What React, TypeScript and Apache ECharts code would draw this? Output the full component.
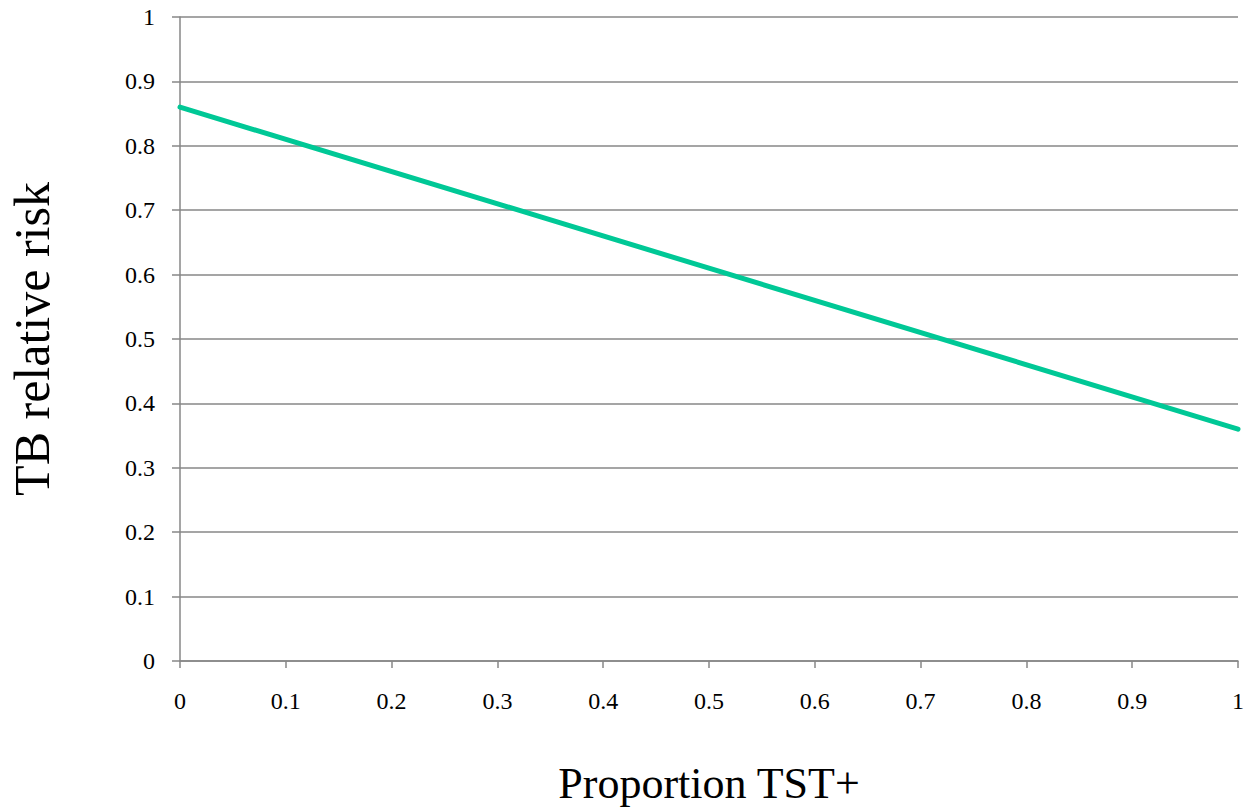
import React, { useEffect, useRef } from "react";
import * as echarts from "echarts";

const xValues = [0, 1];
const riskValues = [0.86, 0.36];
const xTitle = "Proportion TST+";
const yTitle = "TB relative risk";

export default function App() {
  const ref = useRef<HTMLDivElement>(null);
  useEffect(() => {
    if (!ref.current) return;
    const chart = echarts.init(ref.current, undefined, { renderer: "svg" });
    const font = "'Liberation Serif', 'Times New Roman', serif";
    const gray = "#878787";
    const fmt = (v: number) => String(Math.round(v * 10) / 10);
    chart.setOption({
      animation: false,
      backgroundColor: "#ffffff",
      grid: {
        left: 180,
        right: 9,
        top: 17,
        bottom: 150,
        containLabel: false,
        outerBoundsMode: "none",
      },
      xAxis: {
        type: "value",
        min: 0,
        max: 1,
        interval: 0.1,
        name: xTitle,
        nameLocation: "middle",
        nameGap: 100,
        nameTextStyle: { fontFamily: font, fontSize: 44, color: "#000" },
        axisLine: { show: true, lineStyle: { color: gray, width: 1.5 } },
        axisTick: { show: true, length: 7, lineStyle: { color: gray, width: 1.5 } },
        splitLine: { show: false },
        axisLabel: {
          fontFamily: font,
          fontSize: 24,
          color: "#000",
          margin: 28,
          formatter: fmt,
        },
      },
      yAxis: {
        type: "value",
        min: 0,
        max: 1,
        interval: 0.1,
        name: yTitle,
        nameLocation: "middle",
        nameGap: 123,
        nameRotate: 90,
        nameTextStyle: { fontFamily: font, fontSize: 50, color: "#000" },
        axisLine: { show: true, lineStyle: { color: gray, width: 1.5 } },
        axisTick: { show: true, length: 8, lineStyle: { color: gray, width: 1.5 } },
        splitLine: { show: true, lineStyle: { color: gray, width: 1.5 } },
        axisLabel: {
          fontFamily: font,
          fontSize: 24,
          color: "#000",
          margin: 25,
          formatter: fmt,
        },
      },
      series: [
        {
          type: "line",
          data: xValues.map((x, i) => [x, riskValues[i]]),
          symbol: "none",
          lineStyle: { color: "#00C896", width: 5, cap: "round" },
        },
      ],
    });
    return () => chart.dispose();
  }, []);
  return (
    <div
      ref={ref}
      style={{ position: "fixed", left: 0, top: 0, width: 1247, height: 811 }}
    />
  );
}
